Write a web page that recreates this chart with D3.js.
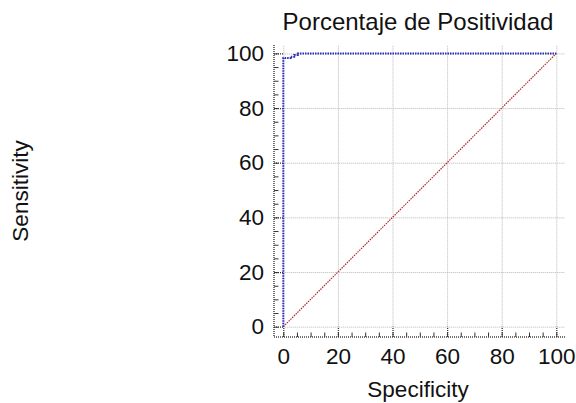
<!DOCTYPE html>
<html>
<head>
<meta charset="utf-8">
<script src="https://cdn.jsdelivr.net/npm/d3@7"></script>
<style>
  body { margin: 0; background: #fff; }
  text { font-family: "Liberation Sans", Arial, sans-serif; fill: #111; }
</style>
</head>
<body>
<div id="chart"></div>
<script>
// ROC curve points (1 - specificity vs sensitivity, in %)
const rocX = [0, 0, 2.7, 2.7, 4, 4, 5.3, 5.3, 100]
const rocY = [0, 98.3, 98.3, 98.8, 98.8, 99.4, 99.4, 100, 100]
// reference diagonal
const diagX = [0, 100]
const diagY = [0, 100]
const majorTicks = [0, 20, 40, 60, 80, 100]
const minorTicks = d3.range(0, 101, 5)

const title = "Porcentaje de Positividad"
const xTitle = "Specificity"
const yTitle = "Sensitivity"

// ----------------------------------------------------------

var width = 576, height = 403
// plot box
var box = { left: 274, right: 565, top: 45, bottom: 337 }

var svg = d3.select("#chart")
    .append("svg")
    .attr("width", width)
    .attr("height", height)

var x = d3.scaleLinear().domain([0, 100]).range([283.3, 556.3])
var y = d3.scaleLinear().domain([0, 100]).range([326.7, 53.4])

const gridGroup = svg.append("g").attr("id", "gridGroup")
const axisGroup = svg.append("g").attr("id", "axisGroup")
const elementGroup = svg.append("g").attr("id", "elementGroup")

// gridlines
gridGroup.append("g")
    .attr("transform", "translate(" + x(0) + ",0)")
    .call(d3.axisLeft(y).tickValues(majorTicks).tickSize(-(box.right - x(0))).tickFormat(""))
gridGroup.append("g")
    .attr("transform", "translate(0," + y(0) + ")")
    .call(d3.axisBottom(x).tickValues(majorTicks).tickSize(-(y(0) - box.top)).tickFormat(""))
gridGroup.selectAll("path.domain").remove()
gridGroup.selectAll("line")
    .attr("stroke", "#b8b8b8")
    .attr("stroke-dasharray", "1,1")

// minor ticks
axisGroup.append("g")
    .attr("transform", "translate(" + box.left + ",0)")
    .call(d3.axisLeft(y).tickValues(minorTicks).tickSize(-4.5).tickFormat(""))
axisGroup.append("g")
    .attr("transform", "translate(0," + box.bottom + ")")
    .call(d3.axisBottom(x).tickValues(minorTicks).tickSize(-4.5).tickFormat(""))

// major ticks + labels
var yAxisGroup = axisGroup.append("g")
    .attr("class", "major")
    .attr("transform", "translate(" + box.left + ",0)")
    .call(d3.axisLeft(y).tickValues(majorTicks).tickSize(-(x(0) - box.left)).tickPadding(10))
var xAxisGroup = axisGroup.append("g")
    .attr("class", "major")
    .attr("transform", "translate(0," + box.bottom + ")")
    .call(d3.axisBottom(x).tickValues(majorTicks).tickSize(-(box.bottom - y(0))).tickPadding(11))

axisGroup.selectAll("path.domain").remove()
axisGroup.selectAll("line").attr("stroke", "#333")
axisGroup.selectAll(".major line").attr("stroke-dasharray", "1,1").attr("stroke-width", 1.3)
axisGroup.selectAll("text")
    .style("font-size", "22.5px")
    .attr("fill", "#111")

// axis lines (dotted)
axisGroup.append("line")
    .attr("x1", box.left).attr("x2", box.left)
    .attr("y1", box.top).attr("y2", box.bottom)
    .attr("stroke", "#444").attr("stroke-width", 1.5).attr("stroke-dasharray", "1,1")
axisGroup.append("line")
    .attr("x1", box.left).attr("x2", box.right)
    .attr("y1", box.bottom).attr("y2", box.bottom)
    .attr("stroke", "#444").attr("stroke-width", 1.5).attr("stroke-dasharray", "1,1")

// diagonal
var line = d3.line().x(d => x(d[0])).y(d => y(d[1]))
elementGroup.append("path")
    .datum(d3.zip(diagX, diagY))
    .attr("d", line)
    .attr("fill", "none")
    .attr("stroke", "#b02828")
    .attr("stroke-width", 1.2)
    .attr("stroke-dasharray", "1.5,1")

// ROC curve
elementGroup.append("path")
    .datum(d3.zip(rocX, rocY))
    .attr("d", line)
    .attr("fill", "none")
    .attr("stroke", "#2a2ab8")
    .attr("stroke-width", 2)
    .attr("stroke-dasharray", "1.5,1")

// titles
svg.append("text")
    .attr("text-anchor", "middle")
    .attr("x", 418)
    .attr("y", 29.5)
    .style("font-size", "24px")
    .text(title)

svg.append("text")
    .attr("text-anchor", "middle")
    .attr("x", 418)
    .attr("y", 397)
    .style("font-size", "22.5px")
    .text(xTitle)

svg.append("text")
    .attr("text-anchor", "middle")
    .attr("transform", "translate(27.5,191) rotate(-90)")
    .style("font-size", "22.5px")
    .text(yTitle)
</script>
</body>
</html>
